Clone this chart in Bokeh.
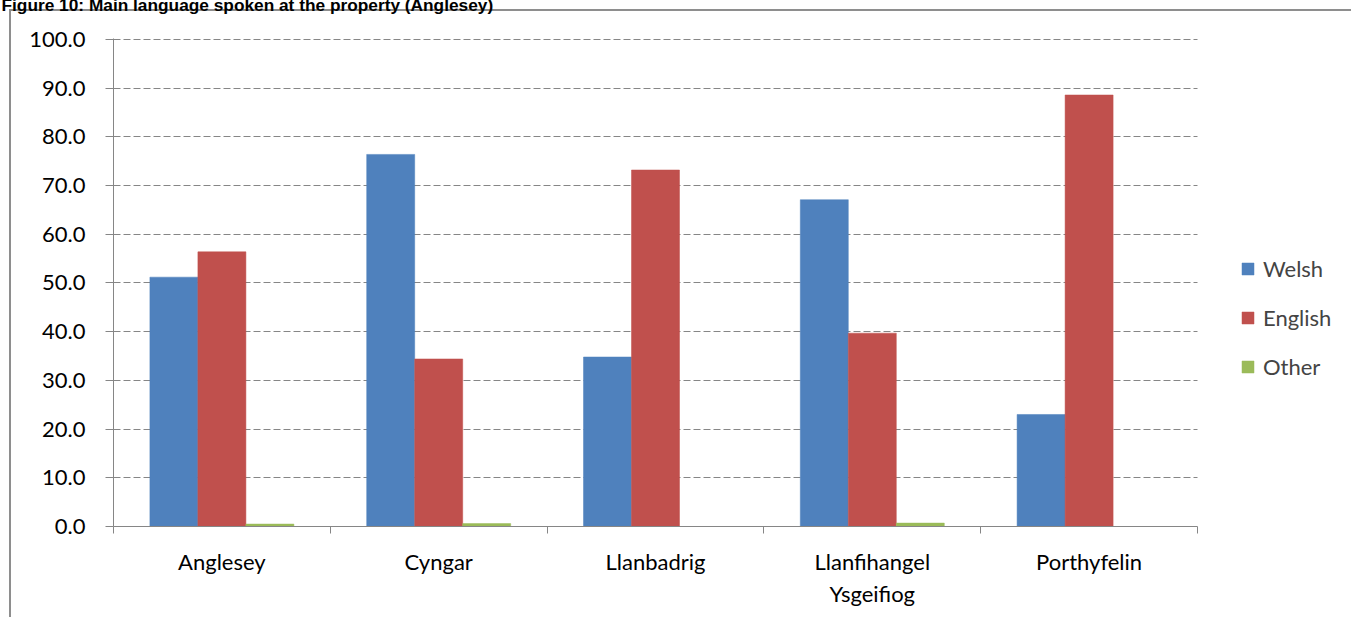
from bokeh.plotting import figure
from bokeh.models import (Range1d, FixedTicker, PrintfTickFormatter, ColumnDataSource,
                          Legend, LegendItem)
from bokeh.transform import dodge
from bokeh.embed import file_html
from bokeh.resources import INLINE

title_text = "Figure 10: Main language spoken at the property (Anglesey)"
categories = ["Anglesey", "Cyngar", "Llanbadrig", "Llanfihangel\nYsgeifiog", "Porthyfelin"]
series = ["Welsh", "English", "Other"]
welsh = [51.2, 76.4, 34.8, 67.1, 23.0]
english = [56.4, 34.4, 73.2, 39.7, 88.6]
other = [0.5, 0.6, 0.0, 0.7, 0.0]
colors = ["#4F81BD", "#C0504D", "#9BBB59"]
y_ticks = [0, 10, 20, 30, 40, 50, 60, 70, 80, 90, 100]

n = len(categories)
centers = [i + 0.5 for i in range(n)]
bounds = list(range(n + 1))
src = ColumnDataSource(dict(x=centers, Welsh=welsh, English=english, Other=other))

AX = "#868686"
BOX = "#8e8e8e"
FONT = "Lato"
SHIFT = 32  # canvas rows hidden above the page top
W = 1351
LEFT = 113
PLOT_W = 1084  # pixel width of the category area
x_end = n * (W - LEFT) / PLOT_W

p = figure(width=W, height=617 + SHIFT, output_backend="svg", toolbar_location=None,
           title=title_text,
           x_range=Range1d(0, x_end), y_range=Range1d(0, 100.2),
           min_border_left=LEFT, min_border_right=0, min_border_top=38 + SHIFT,
           min_border_bottom=91)
p.styles = {
    "position": "absolute", "left": "0px", "top": f"-{SHIFT}px",
    "background-image": f"linear-gradient({BOX}, {BOX}), linear-gradient({BOX}, {BOX})",
    "background-position": f"9px {10 + SHIFT - 1}px, 9px {10 + SHIFT - 1}px",
    "background-size": "2px 3000px, 3000px 2px",
    "background-repeat": "no-repeat",
}
p.outline_line_color = None
p.background_fill_color = "white"
p.border_fill_alpha = 0

p.title.text_font = "Liberation Sans"
p.title.text_font_style = "bold"
p.title.text_font_size = "17.3px"
p.title.text_color = "black"
p.title.align = "left"
p.title.offset = -112
p.title.standoff = 47

p.xgrid.visible = False
use_cross = "cross_bounds" in p.ygrid[0].properties()
if use_cross:
    p.ygrid.ticker = FixedTicker(ticks=y_ticks)
    p.ygrid.cross_bounds = (0, n)
    p.ygrid.grid_line_color = AX
    p.ygrid.grid_line_dash = "7 3"
    p.ygrid.grid_line_width = 1
else:
    p.ygrid.visible = False
    p.segment(x0=[0] * len(y_ticks), x1=[n] * len(y_ticks), y0=y_ticks, y1=y_ticks,
              line_color=AX, line_dash="7 3", line_width=1)

width = 0.2214
offsets = [-width, 0.0, width]
renderers = []
for s, c, o in zip(series, colors, offsets):
    r = p.vbar(x=dodge("x", o), top=s, width=width, source=src,
               fill_color=c, line_color=c, line_width=0.5)
    renderers.append(r)

# x axis: labels at centres, tick marks at boundaries
xa = p.xaxis[0]
xa.bounds = (0, n)
xa.ticker = FixedTicker(ticks=centers, minor_ticks=bounds)
xa.major_label_overrides = {c: nm for c, nm in zip(centers, categories)}
xa.major_tick_out = 0
xa.major_tick_in = 0
xa.minor_tick_out = 7
xa.minor_tick_in = 0
xa.minor_tick_line_color = AX
xa.axis_line_color = AX
xa.major_label_standoff = 14
xa.major_label_text_font = FONT
xa.major_label_text_font_size = "22px"
xa.major_label_text_color = "black"

ya = p.yaxis[0]
ya.ticker = FixedTicker(ticks=y_ticks)
ya.formatter = PrintfTickFormatter(format="%.1f")
ya.major_tick_out = 8
ya.major_tick_in = 0
ya.minor_tick_out = 0
ya.minor_tick_line_color = None
ya.major_tick_line_color = AX
ya.axis_line_color = AX
ya.major_label_standoff = 20
ya.major_label_text_font = FONT
ya.major_label_text_font_size = "22px"
ya.major_label_text_color = "black"

legend = Legend(items=[LegendItem(label=s, renderers=[r]) for s, r in zip(series, renderers)],
                location=(1127, 146), orientation="vertical",
                padding=0, margin=0, border_line_color=None, background_fill_alpha=0,
                glyph_width=15, glyph_height=15, label_standoff=8,
                label_height=28, spacing=21,
                label_text_font=FONT, label_text_font_size="22px")
p.add_layout(legend, "center")

open("out.html", "w").write(file_html(p, INLINE))
